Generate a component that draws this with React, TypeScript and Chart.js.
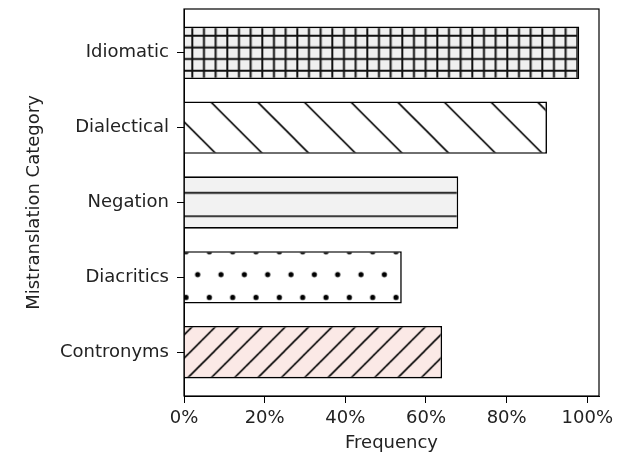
import React, { useEffect, useRef } from "react";
import { Chart, registerables } from "chart.js";

Chart.register(...registerables);

// Data (top to bottom as displayed)
const categories = ["Idiomatic", "Dialectical", "Negation", "Diacritics", "Contronyms"];
const frequencies = [98, 90, 68, 54, 64];
const xTickValues = [0, 20, 40, 60, 80, 100];
const fillColors = ["#f0f0f0", "#ffffff", "#f2f2f2", "#ffffff", "#fbe9e6"];
const hatches = ["grid", "back", "horiz", "dots", "fwd"];

const FONT = "'DejaVu Sans', sans-serif";
const TEXT = "#222";

function tile(w: number, h: number, bg: string, draw: (g: CanvasRenderingContext2D) => void) {
  const c = document.createElement("canvas");
  c.width = w;
  c.height = h;
  const g = c.getContext("2d")!;
  g.fillStyle = bg;
  g.fillRect(0, 0, w, h);
  g.strokeStyle = "#000";
  g.fillStyle = "#000";
  g.lineWidth = 1.6;
  draw(g);
  return c;
}

function makePattern(ctx: CanvasRenderingContext2D, kind: string, bg: string): CanvasPattern {
  let c: HTMLCanvasElement;
  let ox = 0;
  let oy = 0;
  if (kind === "grid") {
    const s = 35 / 3;
    c = tile(35, 35, bg, (g) => {
      g.lineWidth = 2;
      g.strokeStyle = "#111";
      for (let k = -1; k <= 4; k++) {
        g.beginPath();
        g.moveTo(k * s, -5);
        g.lineTo(k * s, 40);
        g.moveTo(-5, k * s);
        g.lineTo(40, k * s);
        g.stroke();
      }
    });
    ox = 192.3;
    oy = 35.7;
  } else if (kind === "back") {
    const s = 140 / 3;
    c = tile(140, 140, bg, (g) => {
      for (let k = -5; k <= 5; k++) {
        const d = k * s;
        g.beginPath();
        g.moveTo(d - 10, -10);
        g.lineTo(d + 150, 150);
        g.stroke();
      }
    });
    ox = 15.6;
    oy = 0;
  } else if (kind === "fwd") {
    const s = 70 / 3;
    c = tile(70, 70, bg, (g) => {
      for (let k = -2; k <= 9; k++) {
        const d = k * s;
        g.beginPath();
        g.moveTo(d + 10, -10);
        g.lineTo(d - 80, 80);
        g.stroke();
      }
    });
    ox = 5.5;
    oy = 0;
  } else if (kind === "horiz") {
    const s = 70 / 3;
    c = tile(70, 70, bg, (g) => {
      for (let k = -1; k <= 4; k++) {
        g.beginPath();
        g.moveTo(-5, k * s);
        g.lineTo(75, k * s);
        g.stroke();
      }
    });
    ox = 0;
    oy = 6.2;
  } else {
    const sx = 70 / 3;
    const sy = 137 / 6;
    c = tile(70, 137, bg, (g) => {
      for (let r = -1; r <= 7; r++) {
        const shift = r % 2 === 0 ? 0 : sx / 2;
        for (let q = -1; q <= 4; q++) {
          g.beginPath();
          g.arc(q * sx + shift, r * sy, 2.6, 0, Math.PI * 2);
          g.fill();
        }
      }
    });
    ox = 22.67;
    oy = 251.7;
  }
  const p = ctx.createPattern(c, "repeat")!;
  p.setTransform(new DOMMatrix().translate(ox, oy));
  return p;
}

const framePlugin = {
  id: "frame",
  afterDatasetsDraw(chart: any) {
    const { ctx, chartArea } = chart;
    ctx.save();
    ctx.strokeStyle = "#000";
    ctx.lineWidth = 1.2;
    ctx.strokeRect(chartArea.left, chartArea.top, chartArea.right - chartArea.left, chartArea.bottom - chartArea.top);
    ctx.restore();
  },
};

export default function App() {
  const ref = useRef<HTMLCanvasElement>(null);

  useEffect(() => {
    const canvas = ref.current!;
    const ctx = canvas.getContext("2d")!;
    const n = categories.length;
    const patterns = categories.map((_, i) => makePattern(ctx, hatches[i], fillColors[i]));

    const chart = new Chart(canvas, {
      type: "bar",
      data: {
        datasets: [
          {
            data: categories.map((_, i) => ({ x: frequencies[i], y: n - 1 - i })),
            backgroundColor: patterns,
            borderColor: "#000",
            borderWidth: 1.6,
            barPercentage: 0.7,
            categoryPercentage: 1.0,
          },
        ],
      },
      options: {
        indexAxis: "y",
        animation: false,
        responsive: false,
        devicePixelRatio: 1,
        layout: { padding: { top: 9, right: 42, left: 0, bottom: 0 } },
        plugins: { legend: { display: false }, tooltip: { enabled: false } },
        scales: {
          x: {
            type: "linear",
            min: 0,
            max: 102.9,
            offset: false,
            afterBuildTicks: (s: any) => {
              s.ticks = xTickValues.map((v) => ({ value: v }));
            },
            afterFit: (s: any) => {
              s.height = 62;
              s.paddingLeft = 0;
              s.paddingRight = 0;
            },
            ticks: {
              callback: (v: any) => v + "%",
              color: TEXT,
              font: { family: FONT, size: 18 },
              padding: 5,
              maxRotation: 0,
            },
            grid: { display: true, offset: false, drawOnChartArea: false, drawTicks: true, tickLength: 7, tickColor: "#000", color: "#000" },
            border: { display: true, color: "#000", width: 1 },
            title: {
              display: true,
              text: "Frequency",
              color: TEXT,
              font: { family: FONT, size: 18 },
              padding: { top: 0, bottom: 4 },
            },
          },
          y: {
            type: "linear",
            min: -0.585,
            max: 4.585,
            offset: false,
            afterBuildTicks: (s: any) => {
              s.ticks = categories.map((_, i) => ({ value: i }));
            },
            afterFit: (s: any) => {
              s.width = 184;
              s.paddingTop = 0;
              s.paddingBottom = 0;
            },
            ticks: {
              callback: (v: any) => categories[n - 1 - Number(v)],
              color: TEXT,
              font: { family: FONT, size: 18 },
              padding: 8,
            },
            grid: { display: true, offset: false, drawOnChartArea: false, drawTicks: true, tickLength: 7, tickColor: "#000", color: "#000" },
            border: { display: true, color: "#000", width: 1 },
            title: {
              display: true,
              text: "Mistranslation Category",
              color: TEXT,
              font: { family: FONT, size: 18 },
              padding: { top: 24, bottom: 0 },
            },
          },
        },
      },
      plugins: [framePlugin],
    } as any);

    return () => chart.destroy();
  }, []);

  return (
    <div style={{ position: "fixed", left: 0, top: 0, width: 641, height: 458, background: "#fff" }}>
      <canvas ref={ref} width={641} height={458} style={{ display: "block" }} />
    </div>
  );
}
